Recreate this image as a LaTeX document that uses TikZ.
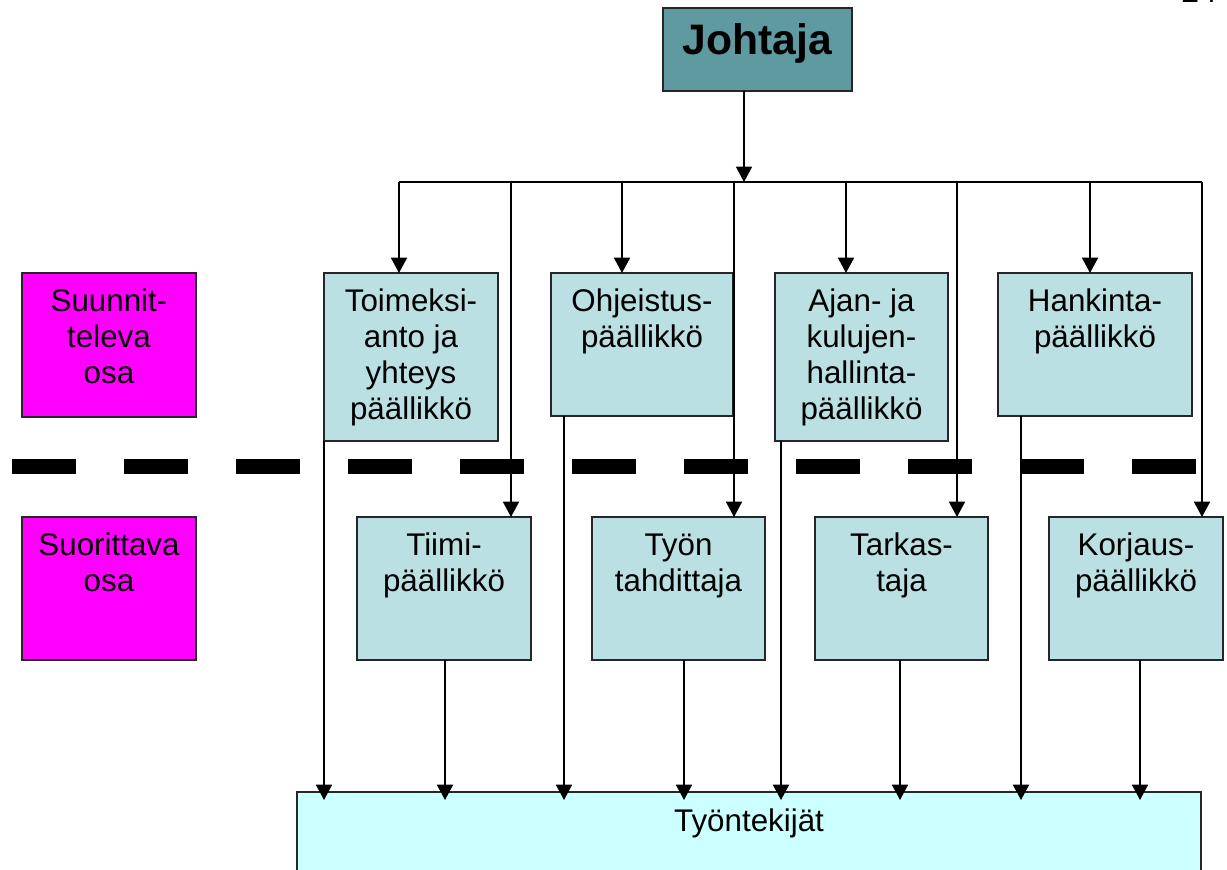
\documentclass[tikz,border=0pt]{standalone}
\usepackage{fontspec}
\setmainfont{Liberation Sans}
\usetikzlibrary{arrows.meta}

\definecolor{chief}{RGB}{95,154,160}
\definecolor{unit}{RGB}{187,224,227}
\definecolor{part}{RGB}{255,0,255}
\definecolor{crew}{RGB}{204,255,255}

% box given by its corners (x1,y1) and (x2,y2)
\newcommand\orgbox[6]{%
  \node[#2,anchor=north west,minimum width={(#5-#3)*0.75pt},
        minimum height={(#6-#4)*0.75pt}] (#1) at (#3,#4) {};}
% text set from the top of a box, first baseline fixed
\newcommand\boxtext[2]{%
  \node[lbl] (#1-t) at ([yshift=-28.5pt]#1.north) {\parbox[t]{8cm}{\centering #2}};}

\tikzset{
  frame/.style={draw=black!85, line width=1.5pt, inner sep=0pt, outer sep=0pt},
  chiefbox/.style={frame, fill=chief},
  unitbox/.style={frame, fill=unit},
  partbox/.style={frame, fill=part},
  crewbox/.style={frame, fill=crew},
  lbl/.style={inner sep=0pt, outer sep=0pt, anchor=base,
              font=\fontsize{23.5pt}{27pt}\selectfont},
  wire/.style={line width=1.3pt},
  arr/.style={wire, -{Triangle[width=12pt,length=11.5pt]}},
  into/.style={arr, shorten >=-6pt},
  divider/.style={line width=11.25pt, dash pattern=on 48pt off 36pt}
}

\begin{document}
\begin{tikzpicture}[x=0.75pt,y=-0.75pt]
\useasboundingbox (0,0) rectangle (1227,870);
\clip (0,0) rectangle (1227,870);

% page number
\node[inner sep=0pt, anchor=base west, font=\fontsize{24pt}{28pt}\selectfont]
  (pageno) at (1181,2.5) {24};

% head
\orgbox{johtaja}{chiefbox}{663}{8}{852}{91}
\node[lbl, font=\bfseries\fontsize{32pt}{38pt}\selectfont] (johtaja-t)
  at ([yshift=-35.25pt]johtaja.north) {Johtaja};

% side labels
\orgbox{plan}{partbox}{22}{273}{196}{417}
\boxtext{plan}{Suunnit-\\televa\\osa}
\orgbox{exec}{partbox}{22}{517}{196}{660}
\boxtext{exec}{Suorittava\\osa}

% planning level
\orgbox{toim}{unitbox}{324}{273}{498}{441}
\boxtext{toim}{Toimeksi-\\anto ja\\yhteys\\päällikkö}
\orgbox{ohje}{unitbox}{551}{273}{733}{416}
\boxtext{ohje}{Ohjeistus-\\päällikkö}
\orgbox{ajan}{unitbox}{775}{273}{948}{441}
\boxtext{ajan}{Ajan- ja\\kulujen-\\hallinta-\\päällikkö}
\orgbox{hank}{unitbox}{998}{273}{1192}{416}
\boxtext{hank}{Hankinta-\\päällikkö}

% executing level
\orgbox{tiimi}{unitbox}{357}{517}{531}{660}
\boxtext{tiimi}{Tiimi-\\päällikkö}
\orgbox{tyon}{unitbox}{592}{517}{765}{660}
\boxtext{tyon}{Työn\\tahdittaja}
\orgbox{tark}{unitbox}{815}{517}{988}{660}
\boxtext{tark}{Tarkas-\\taja}
\orgbox{korj}{unitbox}{1049}{517}{1223}{660}
\boxtext{korj}{Korjaus-\\päällikkö}

% workers
\orgbox{tyont}{crewbox}{297}{792}{1201}{900}
\node[lbl] (tyont-t) at ([yshift=-29.25pt]tyont.north) {Työntekijät};

% dividing line between the levels
\coordinate (dashL) at (12,466.5);
\coordinate (dashR) at (1197,466.5);
\draw[divider] (dashL) -- (dashR);

% distribution bus
\coordinate (jb) at (744,182);
\coordinate (b1) at (399,182);
\coordinate (b2) at (511,182);
\coordinate (b3) at (622,182);
\coordinate (b4) at (734,182);
\coordinate (b5) at (846,182);
\coordinate (b6) at (957,182);
\coordinate (b7) at (1090,182);
\coordinate (b8) at (1202,182);
\draw[wire] (b1) -- (b8);
\draw[arr] (johtaja.south -| jb) -- (jb);

\draw[arr] (b1) -- (b1 |- toim.north);
\draw[arr] (b3) -- (b3 |- ohje.north);
\draw[arr] (b5) -- (b5 |- ajan.north);
\draw[arr] (b7) -- (b7 |- hank.north);
\draw[arr] (b2) -- (b2 |- tiimi.north);
\draw[arr] (b4) -- (b4 |- tyon.north);
\draw[arr] (b6) -- (b6 |- tark.north);
\draw[arr] (b8) -- (b8 |- korj.north);

% drops to the workers
\coordinate (w1) at (324,792);
\coordinate (w2) at (445,792);
\coordinate (w3) at (564,792);
\coordinate (w4) at (684,792);
\coordinate (w5) at (781,792);
\coordinate (w6) at (900,792);
\coordinate (w7) at (1021,792);
\coordinate (w8) at (1140,792);
\draw[into] (w1 |- toim.south) -- (w1);
\draw[into] (w2 |- tiimi.south) -- (w2);
\draw[into] (w3 |- ohje.south) -- (w3);
\draw[into] (w4 |- tyon.south) -- (w4);
\draw[into] (w5 |- ajan.south) -- (w5);
\draw[into] (w6 |- tark.south) -- (w6);
\draw[into] (w7 |- hank.south) -- (w7);
\draw[into] (w8 |- korj.south) -- (w8);
\end{tikzpicture}
\end{document}
